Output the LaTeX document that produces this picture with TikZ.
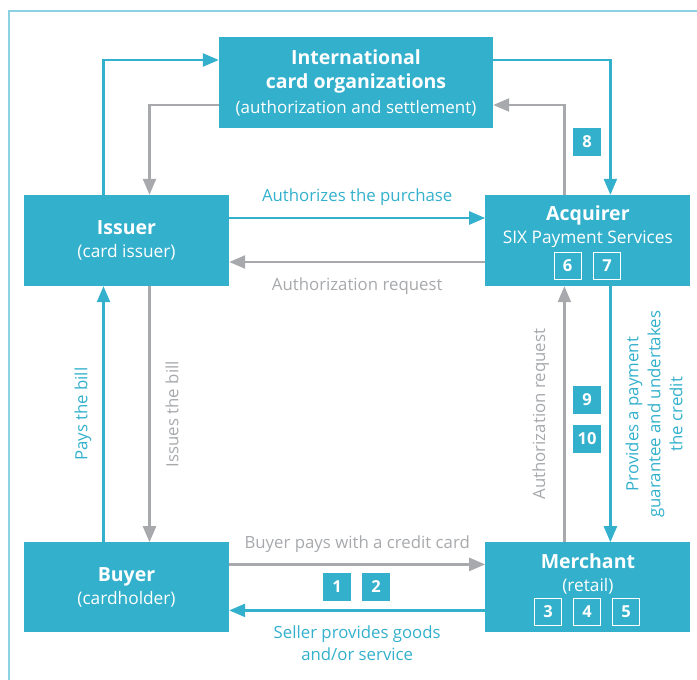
\documentclass[tikz,border=0pt]{standalone}
\usepackage{fontspec}
\setmainfont{Open Sans}
\usepackage{tikz}
\usetikzlibrary{arrows.meta,positioning}
\usepackage{xcolor}
\definecolor{sixblue}{HTML}{33B0CC}
\definecolor{sixgray}{HTML}{A7A9AC}
\definecolor{framelight}{HTML}{8DD2E2}
\newcommand{\boxtitle}{\bfseries\fontsize{19.5}{23}\selectfont}
\newcommand{\boxsub}{\fontsize{17.3}{23}\selectfont}
\newcommand{\lblsize}{\fontsize{16.8}{22}\selectfont}
\newcommand{\numsize}{\bfseries\fontsize{16.5}{16.5}\selectfont}

\begin{document}
\begin{tikzpicture}[
  x=1pt, y=-1pt,
  party/.style={fill=sixblue, text=white, minimum width=205pt,
                minimum height=91pt, inner sep=0pt, align=center,
                font=\boxsub},
  numbox/.style={fill=sixblue, text=white, minimum size=28pt,
                 inner sep=0pt, font=\numsize},
  numline/.style={draw=white, line width=0.9pt, text=white,
                  minimum size=27pt, inner sep=0pt, font=\numsize},
  bluearr/.style={draw=sixblue, line width=2.4pt,
                  -{Triangle[length=16pt,width=13pt]}},
  grayarr/.style={draw=sixgray, line width=2.4pt,
                  -{Triangle[length=16pt,width=13pt]}},
  lbl/.style={font=\lblsize, inner xsep=0pt, align=center},
  node distance=256pt
]
  \useasboundingbox (0,0) rectangle (697,680);
  \draw[framelight, line width=1.2pt] (9,680) -- (9,11) -- (697,11);

  \node[party, minimum width=274pt, font=\fontsize{17}{24.5}\selectfont] (intl) at (356,82.5)
    {{\boxtitle International}\\{\boxtitle card organizations}\\(authorization and settlement)};
  \node[party] (issuer) at (126.5,240.5)
    {{\boxtitle Issuer}\\(card issuer)};
  \node[party, right=of issuer] (acquirer)
    {{\boxtitle Acquirer}\\SIX Payment Services\\[9pt]\mbox{}};
  \node[party, minimum height=90pt, below=of issuer] (buyer)
    {{\boxtitle Buyer}\\(cardholder)};
  \node[party, minimum height=90pt, right=of buyer] (merchant)
    {{\boxtitle Merchant}\\(retail)\\[7pt]\mbox{}};

  %% numbered steps
  \node[numbox] (n1) at (337,587) {1};
  \node[numbox] (n2) at (376,587) {2};
  \node[numline] (n3) at (548,611.5) {3};
  \node[numline] (n4) at (587,611.5) {4};
  \node[numline] (n5) at (626,611.5) {5};
  \node[numline] (n6) at (567.5,265.5) {6};
  \node[numline] (n7) at (607,265.5) {7};
  \node[numbox] (n8) at (587,142) {8};
  \node[numbox] (n9) at (587,400) {9};
  \node[numbox] (n10) at (587,439) {10};

  %% card organizations loop
  \draw[bluearr] ([xshift=-23pt]issuer.north) |- ([yshift=22.5pt]intl.west);
  \draw[grayarr] ([yshift=-22.5pt]intl.west) -| ([xshift=23pt]issuer.north);
  \draw[bluearr] ([yshift=22.5pt]intl.east) -| ([xshift=22.5pt]acquirer.north);
  \draw[grayarr] ([xshift=-23.5pt]acquirer.north) |- ([yshift=-22.5pt]intl.east);

  \draw[bluearr] ([yshift=22.5pt]issuer.east) -- ([yshift=22.5pt]acquirer.west)
    node[midway, lbl, anchor=south, inner ysep=11pt, text=sixblue] (lblauth)
    {Authorizes the purchase};
  \draw[grayarr] ([yshift=-21.5pt]acquirer.west) -- ([yshift=-21.5pt]issuer.east)
    node[midway, lbl, anchor=north, inner ysep=15pt, text=sixgray] (lblreq)
    {Authorization request};
  \draw[grayarr] ([yshift=23pt]buyer.east) -- ([yshift=23pt]merchant.west)
    node[midway, lbl, anchor=south, inner ysep=11pt, text=sixgray] (lblpays)
    {Buyer pays with a credit card};
  \draw[bluearr] ([yshift=-23pt]merchant.west) -- ([yshift=-23pt]buyer.east)
    node[midway, lbl, anchor=north, inner ysep=14pt, text=sixblue] (lblgoods)
    {Seller provides goods\\and/or service};

  %% vertical flows
  \draw[bluearr] ([xshift=-23pt]buyer.north) -- ([xshift=-23pt]issuer.south)
    node[midway, lbl, rotate=90, anchor=south, inner ysep=11pt, text=sixblue] (lblbill)
    {Pays the bill};
  \draw[grayarr] ([xshift=23pt]issuer.south) -- ([xshift=23pt]buyer.north)
    node[midway, lbl, rotate=90, anchor=north, inner ysep=15pt, text=sixgray] (lblissue)
    {Issues the bill};
  \draw[grayarr] ([xshift=-23.5pt]merchant.north) -- ([xshift=-23.5pt]acquirer.south)
    node[midway, lbl, rotate=90, anchor=south, inner ysep=14pt, text=sixgray] (lblreqv)
    {Authorization request};
  \draw[bluearr] ([xshift=22.5pt]acquirer.south) -- ([xshift=22.5pt]merchant.north)
    node[midway, lbl, rotate=90, anchor=north, inner ysep=14pt, text=sixblue] (lblcredit)
    {Provides a payment\\guarantee and undertakes\\the credit};
\end{tikzpicture}
\end{document}
